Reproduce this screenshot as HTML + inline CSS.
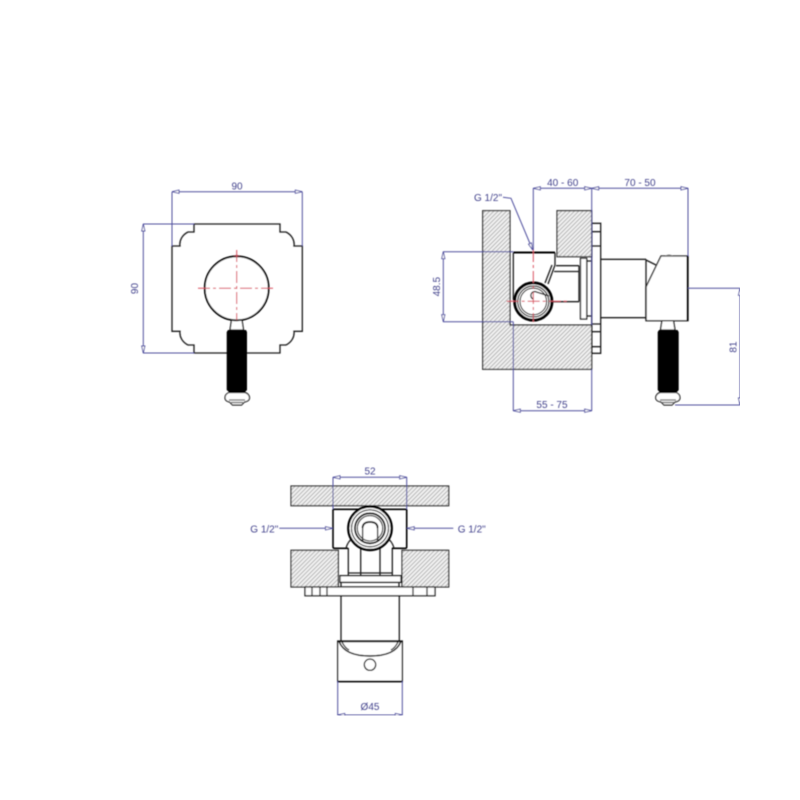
<!DOCTYPE html>
<html>
<head>
<meta charset="utf-8">
<style>
html,body{margin:0;padding:0;background:#fff;}
svg{display:block;}
text{font-family:"Liberation Sans",sans-serif;font-size:10px;fill:#43438c;text-anchor:middle;}
.o{fill:none;stroke:#1a1a1a;stroke-width:1.3;}
.w{fill:#fff;stroke:#1a1a1a;stroke-width:1.3;}
.t{fill:none;stroke:#000;stroke-width:2;}
.d{fill:none;stroke:#4f4f9e;stroke-width:1;}
.a{fill:none;stroke:#4f4f9e;stroke-width:1;marker-start:url(#ar);marker-end:url(#ar);}
.r{fill:none;stroke:#d9505f;stroke-width:1;stroke-dasharray:12 3 3 3;}
.h{fill:url(#hatch);stroke:#222;stroke-width:1.2;}
</style>
</head>
<body>
<svg width="800" height="800" viewBox="0 0 800 800" xmlns="http://www.w3.org/2000/svg">
<defs>
<pattern id="hatch" width="3" height="3" patternUnits="userSpaceOnUse" patternTransform="rotate(45)">
<rect width="3" height="3" fill="#f2f2f2"/>
<rect width="1" height="3" fill="#b4b4b4"/>
</pattern>
<marker id="ar" markerUnits="userSpaceOnUse" markerWidth="10" markerHeight="6" refX="8" refY="3" orient="auto-start-reverse">
<path d="M8,3 L1,1.4 L1,4.6 Z" fill="#fff" stroke="#4f4f9e" stroke-width=".9"/>
</marker>
<marker id="ae" markerUnits="userSpaceOnUse" markerWidth="10" markerHeight="6" refX="8" refY="3" orient="auto">
<path d="M8,3 L1,1.4 L1,4.6 Z" fill="#fff" stroke="#4f4f9e" stroke-width=".9"/>
</marker>
<filter id="soft" x="0" y="0" width="100%" height="100%"><feGaussianBlur stdDeviation="0.45"/></filter>
</defs>
<g filter="url(#soft)">

<!-- FRONT VIEW -->
<path class="o" d="M194,224 H280 V232 H286 A16,14 0 0 1 294,246 H302.3 V331.3 H294 A16,14 0 0 1 286,345 H280 V353 H194 V345 H188 A16,14 0 0 1 180,331.3 H172 V246 H180 A16,14 0 0 1 188,232 H194 Z"/>
<path class="w" d="M231.5,320 H242 L243.5,330 H230 Z"/>
<circle cx="236.7" cy="288.3" r="32" fill="#fff" stroke="#000" stroke-width="1.8"/>
<path d="M233,256.6 Q236.7,253.4 240.4,256.6 Z" fill="#7a1f2a"/>
<path d="M228,330 H246 L247,332 V390 L245,392 H229 L226.7,390 V332 Z" fill="#000"/>
<path d="M229,392.5 H245 Q249.5,394 249.5,398 Q249.5,401 244.5,402 L241.5,405 H232.5 L229.5,402 Q225,401 225,398 Q225,394 229,392.5 Z" fill="#fff" stroke="#111" stroke-width="1.2"/>
<path class="o" d="M229,400 H245 M231,402.5 H243" style="stroke:#666"/>
<path class="r" d="M198,288.3 H276"/>
<path class="r" d="M236.7,250 V320"/>

<path class="d" d="M172,192 V246 M302.3,192 V246 M143,224 H194 M143,353 H194"/>
<path class="a" d="M172,191.7 H302.3"/>
<path class="a" d="M143.3,224 V353"/>
<text x="237" y="189.5">90</text>
<text transform="translate(141,288.5) rotate(-90)" x="0" y="-3">90</text>

<!-- SIDE VIEW -->
<path class="h" d="M482.7,210.7 H510 V325 H591.7 V369.3 H482.7 Z"/>
<rect class="h" x="557" y="210.7" width="34.7" height="46"/>
<path class="o" d="M591.7,223.3 H600.7 V353.3 H591.7 M591.7,231.7 H600.7 M591.7,246 H600.7 M591.7,324 H600.7 M591.7,331.7 H600.7 M591.7,346.7 H600.7"/>
<path class="o" d="M591.7,223.3 V353.3"/>
<path class="o" d="M513.3,252.7 V300 M555,252.7 V265"/>
<path class="t" d="M513.3,252.5 H555"/>
<path class="o" d="M555,265 L548,284 M552,265 L545,283"/>
<path class="o" d="M556,265.7 H579 M552,301.7 H579 M554,271.5 H579"/>
<path class="o" d="M579,265.7 V301.7"/>
<rect class="w" x="580.5" y="258.3" width="6.2" height="60.7"/>
<path class="o" d="M586.7,261 H591.7 M586.7,316 H591.7"/>
<circle cx="533.3" cy="301.5" r="18.6" fill="#fff" stroke="#000" stroke-width="3"/>
<circle cx="533.3" cy="301.5" r="15.5" fill="none" stroke="#111" stroke-width="1.2"/>
<circle cx="533.3" cy="301.5" r="13.3" fill="#fff" stroke="#111" stroke-width="1.1"/>
<path class="o" d="M533,299 A3.4,3.4 0 1 1 536.5,292 L549,296"/>
<path class="r" d="M506.7,301.3 H568"/>
<path class="r" d="M533.3,250 V322"/>

<path class="o" d="M600.7,259.3 H646 M600.7,317.7 H646"/>
<path class="w" d="M646,320.7 V287 L661,256 H688 V320.7 Z"/>
<path class="o" d="M646,259.3 V320 M646,260 L656,265"/>
<path d="M665,256 Q669,253 673,256 Z" fill="#777"/>
<path class="t" d="M687.5,256 V320.7"/>
<path class="w" d="M662,320.7 H673.5 L675,330 H660.5 Z"/>
<path d="M659,330 H677.5 L678.7,332 V390 L677,392 H659.5 L657.7,390 V332 Z" fill="#000"/>
<path d="M660,392.5 H676 Q680,394 680,398 Q680,401 675,402 L672,405 H664 L661,402 Q655.7,401 655.7,398 Q655.7,394 660,392.5 Z" fill="#fff" stroke="#111" stroke-width="1.2"/>
<path class="o" d="M660,400 H676 M662,402.5 H674" style="stroke:#666"/>

<path class="d" d="M533.3,188 V250 M591.7,188 V325 M688,188 V256 M443,251.7 H513.3 M443,321.7 H513.3 M513.3,321.7 V411 M591.7,369 V411 M688,288.3 H740 M675,405 H740"/>
<path class="a" d="M533.3,188.3 H591.7"/>
<path class="a" d="M591.7,188.3 H688"/>
<path class="a" d="M443.3,251.7 V321.7"/>
<path class="a" d="M513.3,410.7 H591.7"/>
<path class="a" d="M740,288.3 V405"/>
<path class="d" style="marker-end:url(#ae)" d="M503,197.3 L511,198.3 L532.7,250"/>
<text x="562.7" y="186">40 - 60</text>
<text x="640" y="186">70 - 50</text>
<text x="488" y="200.8">G 1/2"</text>
<text x="552" y="408">55 - 75</text>
<text transform="translate(440,286.7) rotate(-90)">48.5</text>
<text transform="translate(736.5,347) rotate(-90)">81</text>

<!-- TOP/BOTTOM VIEW -->
<rect class="h" x="291" y="486" width="157.7" height="19.7"/>
<rect class="h" x="291" y="550.3" width="47.3" height="36.7"/>
<rect class="h" x="402" y="550.3" width="46.7" height="36.7"/>
<path class="o" d="M348.3,548 V575 M360.7,548 V575 M380,548 V575 M392.3,548 V575 M348.3,573 H392.3"/>
<path class="w" d="M340,575.7 H401 V582.3 H340 Z"/>
<path class="o" d="M341,582.3 V587 H399 V582.3"/>
<path class="w" d="M305,587 H435 V595.7 H305 Z"/>
<path class="o" d="M312,587 V595.7 M320,587 V595.7 M327,587 V595.7 M413,587 V595.7 M427,587 V595.7"/>
<path class="t" d="M333,509.3 V547 Q333,548.3 335,548.3 H348 M406.7,509.3 V547 Q406.7,548.3 405,548.3 H392 M333,509.3 H406.7" style="stroke-width:1.6"/>
<path class="o" d="M346,548 Q348,541 353,538 M394,548 Q392,541 387,538"/>
<circle cx="370" cy="528.3" r="21.7" fill="#fff" stroke="#000" stroke-width="2.4"/>
<circle cx="370" cy="528.3" r="18.5" fill="none" stroke="#111" stroke-width="1.1"/>
<circle cx="370" cy="528.3" r="15" fill="none" stroke="#000" stroke-width="1.8"/>
<circle cx="370" cy="528.3" r="12.7" fill="#fff" stroke="#111" stroke-width="1.1"/>
<path class="o" d="M362.6,541 V529 Q362.6,522 370,522 Q377.6,522 377.6,529 V541"/>
<path class="t" d="M362.6,528 Q362.6,522 370,522 Q377.6,522 377.6,528" style="stroke-width:1.8"/>

<path class="o" d="M341,595.7 V641 M399.3,595.7 V641"/>
<path class="w" d="M337.7,641 H402.3 V681.7 H337.7 Z"/>
<path class="t" d="M337.7,641.5 H402.3 M337.7,681.3 H402.3" style="stroke-width:1.6"/>
<path class="t" d="M339.3,642 Q345,656 370,656 Q395,656 400.7,642" style="stroke-width:1.6"/>
<path class="o" d="M342,642 Q345,648 349,650 M398,642 Q395,648 391,650"/>
<circle cx="370" cy="664.7" r="5.7" fill="#fff" stroke="#111" stroke-width="1.3"/>

<path class="d" d="M333,477 V509 M406.7,477 V509 M337.7,681 V715.5 M402.3,681 V715.5"/>
<path class="a" d="M333,477.3 H406.7"/>
<path class="a" d="M337.7,715 H402.3"/>
<path class="d" style="marker-end:url(#ae)" d="M279.3,528.3 H332.5"/>
<path class="d" style="marker-end:url(#ae)" d="M453.3,528.3 H407.2"/>
<text x="370" y="474.5">52</text>
<text x="264.3" y="532.5">G 1/2"</text>
<text x="471.7" y="532.5">G 1/2"</text>
<text x="370" y="710">Ø45</text>
</g>
</svg>
</body>
</html>
